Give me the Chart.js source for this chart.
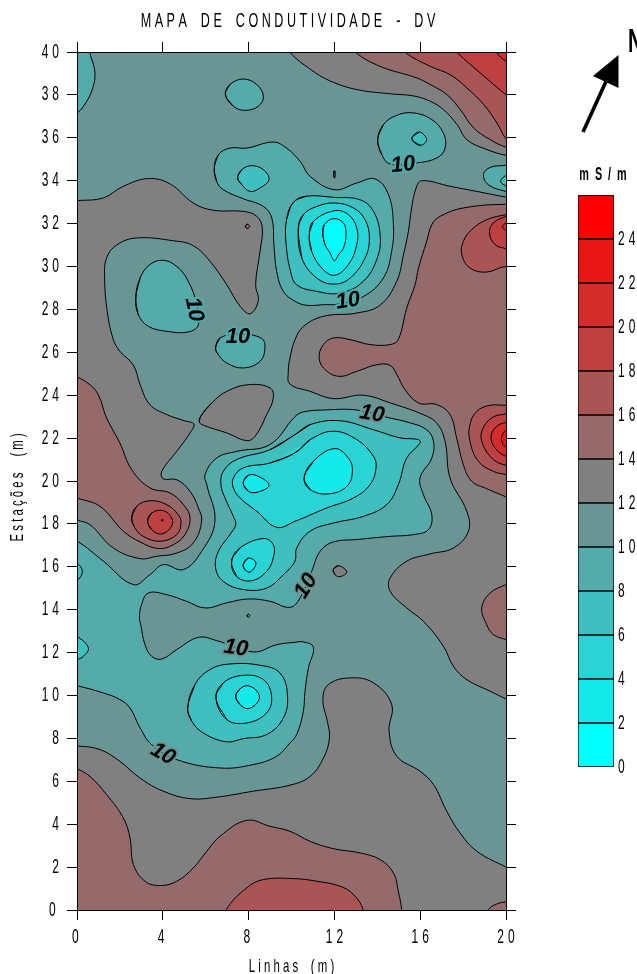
<!DOCTYPE html>
<html><head><meta charset="utf-8">
<style>
html,body{margin:0;padding:0;background:#fff;width:637px;height:974px;overflow:hidden;position:relative}
#map{position:absolute;left:0;top:0}
#bar{position:absolute;left:571px;top:160px}
#north{position:absolute;left:628px;top:20px;font:bold 34px 'Liberation Sans',sans-serif;color:#000;line-height:40px;transform:scaleX(.6);transform-origin:left top}
#arrow{position:absolute;left:570px;top:45px}
</style>
<script src="https://cdn.jsdelivr.net/npm/chart.js@4"></script>
</head><body>
<canvas id="map" width="637" height="974"></canvas>
<canvas id="bar" width="66" height="620"></canvas>
<svg id="arrow" width="60" height="95"><line x1="13" y1="87" x2="38" y2="32" stroke="#000" stroke-width="3.6"/><polygon points="48.5,10 23,31 48.5,43" fill="#000"/></svg>
<div id="north">N</div>
<script>
const FONT="'Liberation Sans',sans-serif";
const titleText='M A P A    D E    C O N D U T I V I D A D E    -    D V  ';
const xAxisTitle='L i n h a s    ( m )';
const yAxisTitle='E s t a ç õ e s     ( m )    ';
const xTickLabels=['0 ','4 ','8 ','1\u20042','1\u20046','2\u20040'];
const yTickLabels=['0 ','2','4','6','8','1\u20040','1\u20042','1\u20044','1\u20046','1\u20048','2\u20040','2\u20042','2\u20044','2\u20046','2\u20048','3\u20040','3\u20042','3\u20044','3\u20046','3\u20048','4\u20040'];
const barEdges=[0,2,4,6,8,10,12,14,16,18,20,22,24,26];
const barColors=['#00ffff','#15eaea','#2bd4d4','#40bfbf','#55aaaa','#6a9595','#808080','#956a6a','#aa5555','#bf4040','#d42b2b','#ea1515','#ff0000'];
const barTickLabels=['0','2','4','6','8','1\u20040','1\u20042','1\u20044','1\u20046','1\u20048','2\u20040','2\u20042','2\u20044',''];
const C={b2:barColors[0],b4:barColors[1],b6:barColors[2],b8:barColors[3],b10:barColors[4],b12:barColors[5],b14:barColors[6],b16:barColors[7],b18:barColors[8],b20:barColors[9],b22:barColors[10],b24:barColors[11]};

// contour outlines, in metres (linha, estação); points past the map edge close the shape off-map
const base=[[-3,-3],[23,-3],[23,43],[-3,43]];
const g12left=[[-1,33],[0,33.07],[1.23,33.2],[2.16,33.74],[3.33,34.1],[4.34,33.85],[5.42,32.96],[6.36,32.62],[7.75,32.57],[8.38,32.34],[8.64,31.8],[8.53,30.7],[8.33,29.15],[8.45,28.4],[8.07,27.8],[7.6,28.15],[6.98,29.15],[6.2,30.24],[5.42,30.97],[4.49,31.2],[2.78,31.33],[1.85,31],[1.38,30.4],[1.29,29.46],[1.41,27.9],[1.69,26.6],[2,26.05],[2.63,25.4],[2.94,24.5],[3.4,23.56],[4.18,23.1],[5.03,22.8],[5.45,22.66],[5.27,22.24],[4.65,21.38],[3.95,20.45],[4.02,20.1],[4.65,20.06],[5.27,19.52],[5.66,18.74],[5.81,18.12],[5.42,17.11],[4.65,16.64],[3.71,16.49],[2.94,16.38],[1.69,16.88],[0.6,17.97],[0,18.2],[-1,18.9]];
const g14dot=[[7.85,31.87],[7.94,31.97],[8.05,31.87],[7.94,31.77]];
const g12island=[[5.77,23.02],[6.28,23.64],[6.98,24.18],[7.99,24.49],[9,24.34],[9.15,23.87],[8.84,23.09],[8.3,22.08],[7.91,21.88],[6.98,22.24],[5.89,22.6],[5.7,22.75]];
const g12top=[[9.2,41],[9.93,39.98],[10.87,39.2],[11.8,38.65],[13.04,38.25],[14.6,38.05],[15.7,37.95],[16.47,37.7],[17.09,37.31],[17.72,36.61],[18.18,35.91],[19.11,35.45],[20,35.18],[21,35],[21,41]];
const g12right=[[21,33.1],[20,33.24],[18.64,33.5],[17.39,33.74],[16.07,34],[15.81,33.66],[15.6,32.73],[15.45,31.64],[15.22,30.55],[14.9,29.3],[14.13,28.2],[13.04,27.83],[11.49,27.68],[10.55,27.2],[10.17,26.6],[9.93,25.74],[9.85,25.11],[9.93,24.52],[10.87,24.18],[11.95,23.84],[13.35,24],[14.6,23.64],[16.15,23.09],[16.77,22.7],[17.16,21.85],[17.39,20.14],[18.17,18.59],[18.25,17.66],[17.55,16.88],[16.46,16.6],[15.37,16.26],[14.6,15.48],[14.6,14.86],[15.37,14.08],[16.15,13.46],[17.08,12.3],[17.55,11.36],[18.17,10.74],[19.26,10.2],[20,9.84],[21,9.4]];
const g12bottom=[[-1,7.7],[0,7.65],[1.07,7.48],[2,6.93],[2.94,6.15],[4.02,5.54],[5.27,5.19],[6.51,5.26],[8.22,5.54],[9.93,5.82],[10.87,6.23],[11.49,7.09],[11.77,8.02],[11.67,8.8],[11.46,9.81],[11.72,10.51],[12.73,10.82],[13.82,10.59],[14.67,9.58],[14.55,8.33],[14.91,7.17],[15.99,6.47],[16.62,5.85],[17.24,4.6],[17.86,3.59],[18.64,2.74],[20,2],[21,1.5],[21,-1],[-1,-1]];
const g12speck=[[11.95,15.87],[12.19,16.05],[12.58,15.76],[12.26,15.54],[12.03,15.63]];
const b14top=[[12.5,40.6],[12.96,40],[14.13,39.33],[15.84,38.79],[16.47,38.48],[17.25,38.01],[17.87,37.31],[18.49,36.46],[19.27,35.91],[20,35.56],[21,35.3],[21,41]];
const b14right=[[21,32.8],[20,32.9],[18.01,32.73],[16.93,32.34],[16.54,31.95],[16.3,31.17],[15.92,29.93],[15.76,29.15],[15.37,28.06],[14.98,26.6],[14.6,26.36],[13.66,26.36],[12.73,26.59],[11.95,26.67],[11.49,26.36],[11.29,25.81],[11.49,25.27],[12.19,24.88],[13.04,25.11],[13.97,25.42],[14.6,25.39],[14.91,24.96],[15.29,24.26],[15.92,23.64],[16.77,23.56],[17.39,23.09],[17.7,22],[18.01,20.76],[18.4,19.99],[19.1,19.64],[20,19.26],[21,18.8]];
const b14mid=[[21,15.6],[20,15.17],[19.26,14.78],[18.87,14.08],[19.1,13.3],[19.41,12.84],[20,12.6],[21,12.2]];
const b14left=[[-1,25.2],[0,24.85],[0.6,24.49],[0.99,24.03],[1.38,22.94],[2,21.77],[2.55,20.53],[3.4,19.68],[4.34,19.44],[4.96,18.9],[5.27,18.28],[5.03,17.5],[4.49,17.03],[3.79,16.85],[2.94,17.16],[2.16,17.66],[1.07,18.82],[0,19.21],[-1,19.6]];
const b14low=[[-1,7],[0,6.59],[0.6,6.23],[1.38,5.38],[2.16,4.29],[2.47,3.36],[2.63,2.12],[3.17,1.34],[3.87,1.14],[4.65,1.34],[5.42,1.96],[6.05,2.74],[6.67,3.44],[7.91,4.18],[9,3.9],[9.93,3.67],[10.87,3.2],[11.95,2.86],[13.2,2.66],[14.13,2.35],[14.75,1.73],[14.98,0.87],[15.14,0],[15.2,-1],[-1,-1]];
const b14corner=[[19,-1],[19.18,0],[19.57,0.28],[20,0.38],[21,0.5],[21,-1]];
const r16low=[[6.7,-1],[6.95,0],[7.91,1.03],[8.69,1.42],[10.16,1.46],[11.18,1.34],[12.26,1.11],[12.89,0.72],[13.35,0],[13.5,-1]];
const r16top=[[14.9,40.6],[15.29,40],[16.47,39.33],[17.4,38.94],[18.18,38.32],[18.96,37.55],[19.58,36.69],[20,35.96],[21,35],[21,41]];
const r18top=[[17.2,40.5],[17.72,39.97],[18.8,39.02],[20,38],[21,37.2],[21,41]];
const r20top=[[19.2,40.5],[19.58,39.95],[20,39.57],[21,39],[21,41]];
const r16dot=[[21,32.6],[20,32.42],[19.1,32.18],[18.4,31.72],[18.01,31.17],[17.94,30.55],[18.32,29.93],[19.1,29.74],[20,30],[21,29.8]];
const r18dot=[[21,32.7],[20,32.34],[19.41,32.03],[19.23,31.56],[19.49,31.02],[20,30.83],[21,30.5]];
const r20dot=[[20.6,32.4],[20,32.03],[19.83,31.86],[20,31.67],[20.6,31.3]];
const r16side=[[21,23.6],[20,23.53],[19.26,23.53],[18.64,23.25],[18.32,22.63],[18.32,21.85],[18.71,20.92],[19.41,20.45],[20,20.3],[21,20.1]];
const r18side=[[21,23.3],[20,23.13],[19.33,22.94],[18.87,22.32],[18.92,21.7],[19.41,21],[20,20.73],[21,20.5]];
const r20side=[[21,23],[20,22.74],[19.57,22.55],[19.3,22.08],[19.49,21.54],[20,21.15],[21,20.9]];
const r22side=[[21,22.8],[20,22.35],[19.8,22.08],[19.83,21.77],[20,21.58],[21,21.1]];
const r16blob=[[2.55,18.28],[2.78,18.82],[3.4,19.08],[4.18,18.9],[4.72,18.43],[4.85,18.04],[4.65,17.5],[3.87,17.19],[3.09,17.42],[2.7,17.81]];
const r18blob=[[3.29,18.12],[3.48,18.51],[4.02,18.62],[4.41,18.28],[4.41,17.89],[3.95,17.53],[3.48,17.73]];
const r20speck=[[3.94,18.17],[3.98,18.21],[4.02,18.17],[3.98,18.13]];
const t10corner=[[0.45,40.8],[0.6,39.95],[0.84,39.02],[0.68,38.17],[0.3,37.47],[0,37.16],[-1,36.6],[-1,40.8]];
const t10a=[[6.92,38.01],[7.13,38.48],[7.75,38.74],[8.38,38.48],[8.69,37.93],[8.45,37.47],[7.83,37.28],[7.29,37.47]];
const t10big=[[6.4,34.59],[6.59,35.21],[7.13,35.52],[7.91,35.52],[9.15,35.8],[9.77,35.52],[10.4,34.9],[10.87,34.2],[12,33.58],[13.04,33.89],[13.9,34.08],[14.52,33.35],[14.75,31.95],[14.67,30.71],[14.28,29.46],[13.35,28.6],[12.2,28.25],[11.49,28.22],[10.71,28.19],[10.16,28.38],[9.62,28.84],[9.31,29.77],[9.18,31.02],[9.08,32.26],[8.69,32.8],[7.75,33.16],[6.82,33.58],[6.51,33.97]];
const t8a=[[7.49,34.13],[7.68,34.51],[8.14,34.7],[8.69,34.51],[8.95,34.05],[8.53,33.66],[8.07,33.5],[7.68,33.82]];
const t8core=[[10.1,33],[10.71,33.28],[12,33.22],[13.2,33.11],[13.82,32.57],[14.13,31.48],[14,30.4],[13.35,29.31],[12.26,28.76],[11.18,28.84],[10.24,29.15],[9.95,29.8],[9.75,31.02],[9.77,32.2]];
const t6core=[[10.32,31.8],[10.55,32.42],[11.18,32.8],[12,32.96],[12.89,32.73],[13.43,32.18],[13.63,31.33],[13.43,30.4],[12.73,29.46],[12,29.18],[11.18,29.46],[10.48,30.4]];
const t4core=[[10.83,31.48],[11.02,32.1],[12,32.6],[12.65,32.42],[13.04,31.8],[13.04,31.02],[12.65,30.09],[12,29.59],[11.41,29.93],[10.94,30.71]];
const t2core=[[11.46,31.56],[11.53,31.95],[11.95,32.23],[12.42,32.03],[12.54,31.48],[12.42,30.86],[12.19,30.55],[12,30.27],[11.8,30.63],[11.56,31.02]];
const t10speck=[[11.98,34.45],[12.03,34.45],[12.03,34.15],[11.98,34.15]];
const t10ne=[[14.02,35.91],[14.28,36.61],[14.91,37.05],[15.68,37.16],[16.54,36.85],[17.08,36.22],[17.16,35.52],[16.77,35.06],[15.84,34.83],[14.6,34.78],[14.21,35.21]];
const t8ne=[[15.61,35.96],[15.96,36.27],[16.3,35.91],[15.99,35.65]];
const t10edge=[[21,34.9],[20,34.72],[19.26,34.62],[18.95,34.28],[19.18,33.81],[20,33.5],[21,33.3]];
const t8edge=[[20.6,34.6],[20,34.25],[19.75,33.97],[20,33.75],[20.6,33.4]];
const t10west=[[2.74,28.53],[2.94,29.46],[3.4,30.09],[4.02,30.29],[4.65,30],[5.19,29.31],[5.58,28.22],[5.66,27.29],[5.19,26.95],[4.18,26.98],[3.33,27.21],[2.86,27.75]];
const t10mid=[[6.46,26.2],[6.67,26.67],[7.6,26.85],[8.6,26.65],[8.76,26.2],[8.53,25.58],[7.75,25.27],[6.98,25.5],[6.59,25.89]];
const t10main=[[-1,17.6],[0,17.2],[1.23,16.26],[2.63,15.17],[3.4,15.63],[4.02,16.1],[4.96,15.87],[5.81,16.72],[6.43,18.12],[6.05,19.83],[5.97,20.3],[6.51,21.07],[7.44,21.38],[9,21.7],[10.16,23],[10.55,23.22],[11.49,23.31],[13.04,23.31],[14.44,22.97],[15.53,22.71],[16.3,22.39],[16.62,21.85],[16.54,21.07],[15.99,20.14],[16.15,19.36],[16.54,18.43],[16.38,17.73],[15.68,17.5],[14.6,17.42],[13.04,17.27],[11.95,17.16],[11.33,16.72],[10.94,15.79],[10.4,14.55],[9.93,14.11],[9,14.39],[7.99,14.5],[6.98,14.32],[5.97,14.08],[5.11,14.39],[4.18,14.7],[3.33,14.78],[3.01,14.24],[2.91,13.61],[2.97,13.3],[3.17,12.37],[3.48,11.83],[3.95,11.7],[4.65,12.14],[5.66,12.71],[6.51,12.56],[8.22,12.03],[9.31,12.37],[10.16,12.48],[10.55,12.5],[11.02,12.25],[10.79,11.29],[10.63,10.2],[10.55,9.26],[10.24,8.18],[9.93,7.79],[9.31,7.17],[8.22,6.78],[6.67,6.62],[4.65,7.01],[3.48,7.71],[2.94,8.49],[2.47,9.42],[2,9.81],[1.23,10.12],[0,10.46],[-1,10.7]];
const t12ring=[[7.92,13.72],[7.99,13.79],[8.06,13.72],[7.99,13.65]];
const t8edgeA=[[-0.6,16.6],[0,16.18],[0.25,15.79],[0,15.35],[-0.6,15]];
const t8edgeB=[[-0.6,13],[0,12.76],[0.53,12.22],[0.3,11.83],[0,11.67],[-0.6,11.4]];
const t8main=[[10.16,22.16],[9,21.46],[7.44,21],[6.82,20.45],[6.71,19.83],[6.9,19.21],[7.29,18.35],[7.4,17.97],[7.13,17.5],[6.59,16.72],[6.46,15.95],[6.82,15.32],[7.75,14.94],[8.84,15.01],[9.62,15.63],[10.16,16.26],[10.24,16.88],[10.87,17.66],[11.95,18.04],[13.35,18.35],[14.44,18.9],[14.98,19.83],[15.37,21.07],[15.99,21.77],[15.92,21.93],[15.06,22.01],[13.82,22.39],[12.26,22.81],[10.87,22.63]];
const t6main=[[10.16,21.31],[9,20.84],[7.75,20.61],[7.29,20.14],[7.29,19.68],[7.6,19.21],[8.38,18.59],[9.31,17.84],[10.16,18.12],[11.64,18.74],[12.89,19.21],[13.66,19.83],[13.94,20.61],[13.82,21.15],[13.04,21.93],[11.95,22.32],[10.87,21.93]];
const t4east=[[10.59,20.14],[11.02,20.92],[12,21.51],[12.65,21.07],[12.84,20.45],[12.58,19.75],[11.72,19.4],[10.87,19.6]];
const t4west=[[7.75,19.91],[7.99,20.27],[8.45,20.22],[8.95,19.8],[8.45,19.49],[7.99,19.52]];
const t6south=[[7.21,16.26],[7.6,16.88],[8.69,17.32],[9.15,17.03],[9.15,16.41],[8.84,15.79],[8.14,15.35],[7.44,15.55]];
const t4south=[[7.75,16.1],[7.99,16.41],[8.34,16.18],[8.07,15.76],[7.83,15.87]];
const t8low=[[5.16,9.42],[5.5,10.51],[6.2,11.21],[7.13,11.47],[8.53,11.41],[9.46,11.05],[9.81,10.04],[9.62,8.95],[8.84,8.18],[7.75,7.99],[6.98,7.84],[5.89,8.25],[5.35,8.8]];
const t6low=[[6.48,9.89],[6.82,10.59],[7.75,10.94],[8.69,10.74],[9.07,9.96],[8.84,9.19],[7.91,8.72],[6.98,8.88]];
const t4low=[[7.4,9.96],[7.6,10.31],[7.99,10.45],[8.45,10.12],[8.45,9.73],[7.99,9.39],[7.6,9.58]];

const layers=[
 [base,C.b12],[g12left,C.b14],[g14dot,C.b16],[g12island,C.b14],[g12top,C.b14],[g12right,C.b14],[g12bottom,C.b14],[g12speck,C.b14],
 [b14top,C.b16],[b14right,C.b16],[b14mid,C.b16],[b14left,C.b16],[b14low,C.b16],[b14corner,C.b16],
 [r16low,C.b18],[r16top,C.b18],[r18top,C.b20],[r20top,C.b22],
 [r16dot,C.b18],[r18dot,C.b20],[r20dot,C.b22],
 [r16side,C.b18],[r18side,C.b20],[r20side,C.b22],[r22side,C.b24],
 [r16blob,C.b18],[r18blob,C.b20],[r20speck,C.b22],
 [t10corner,C.b10],[t10a,C.b10],[t10big,C.b10],[t8a,C.b8],[t8core,C.b8],[t6core,C.b6],[t4core,C.b4],[t2core,C.b2],[t10speck,C.b10],
 [t10ne,C.b10],[t8ne,C.b8],[t10edge,C.b10],[t8edge,C.b8],[t10west,C.b10],[t10mid,C.b10],
 [t10main,C.b10],[t12ring,C.b12],[t8edgeA,C.b8],[t8edgeB,C.b8],[t8main,C.b8],[t6main,C.b6],[t4east,C.b4],[t4west,C.b4],[t6south,C.b6],[t4south,C.b4],
 [t8low,C.b8],[t6low,C.b6],[t4low,C.b4]
];
const contourLabels=[
 {x:15.2,y:34.73,rot:-6,halo:C.b10},{x:12.63,y:28.39,rot:-8,halo:C.b10},{x:5.45,y:28.0,rot:78,halo:C.b10},
 {x:7.5,y:26.7,rot:0,halo:C.b10},{x:13.75,y:23.12,rot:10,halo:C.b12},{x:10.68,y:15.1,rot:-58,halo:C.b12},
 {x:7.41,y:12.2,rot:8,halo:C.b12},{x:4.0,y:7.27,rot:30,halo:C.b12}
];
// the axis lettering of the original is a tall condensed face: squeeze it along the reading direction
const nativeFillText=CanvasRenderingContext2D.prototype.fillText;
function condense(canvas){const c=canvas.getContext('2d');
 c.fillText=function(t,x,y,m){c.save();c.translate(x,y);c.scale(.6,1);nativeFillText.call(c,t,0,0);c.restore();};
 return canvas;}
const closed=p=>[p[p.length-1],...p,p[0],p[1]].map(([x,y])=>({x,y}));
const datasets=layers.map(([pts,col],i)=>({data:closed(pts),backgroundColor:col,borderColor:'#000',borderWidth:1,tension:0.4,capBezierPoints:false,showLine:true,pointRadius:0,fill:false,order:layers.length-i}));
const fillShapes={id:'fillShapes',beforeDatasetDraw(chart,args){
 const line=args.meta.dataset,ctx=chart.ctx,a=chart.chartArea;
 line.updateControlPoints(a);
 ctx.save();ctx.beginPath();ctx.rect(a.left,a.top,a.width,a.height);ctx.clip();
 ctx.beginPath();line.path(ctx);ctx.closePath();
 ctx.fillStyle=chart.data.datasets[args.index].backgroundColor;ctx.fill();ctx.restore();
}};
const drawLabels={id:'drawLabels',afterDatasetsDraw(chart){
 const ctx=chart.ctx,sx=chart.scales.x,sy=chart.scales.y;
 contourLabels.forEach(l=>{ctx.save();
  ctx.translate(sx.getPixelForValue(l.x),sy.getPixelForValue(l.y));ctx.rotate(l.rot*Math.PI/180);
  ctx.font="italic bold 22px 'Liberation Sans',sans-serif";ctx.textAlign='center';ctx.textBaseline='middle';
  ctx.lineWidth=4;ctx.strokeStyle=l.halo;ctx.strokeText('10',0,0);
  ctx.fillStyle='#000';nativeFillText.call(ctx,'10',0,0);ctx.restore();});
}};
const grid={color:'#000',drawOnChartArea:false,tickLength:10,tickColor:'#000',z:1};
const border={color:'#000',width:1,z:1};
const tick={color:'#000',font:{family:FONT,size:20}};
new Chart(condense(document.getElementById('map')),{type:'scatter',data:{datasets},plugins:[fillShapes,drawLabels],options:{
 responsive:false,animation:false,events:[],layout:{padding:0},
 plugins:{legend:{display:false},tooltip:{enabled:false},
  title:{display:true,text:titleText,color:'#000',fullSize:false,font:{family:FONT,size:21,weight:'normal',lineHeight:1},padding:{top:11,bottom:0}}},
 scales:{
  x:{type:'linear',position:'bottom',min:0,max:20,grid,border,ticks:{...tick,stepSize:4,padding:5,maxRotation:0,callback:v=>xTickLabels[v/4]},
     title:{display:true,text:xAxisTitle,color:'#000',font:{family:FONT,size:19,lineHeight:.8},padding:0},afterFit:s=>{s.height=64}},
  x2:{type:'linear',position:'top',min:0,max:20,grid,border,ticks:{display:false,stepSize:4},afterFit:s=>{s.height=20}},
  y:{type:'linear',position:'left',min:0,max:40,grid,border,ticks:{...tick,stepSize:2,padding:8,autoSkip:false,callback:v=>yTickLabels[v/2]},
     title:{display:true,text:yAxisTitle,color:'#000',font:{family:FONT,size:19},padding:{top:6,bottom:0}},afterFit:s=>{s.width=77}},
  y2:{type:'linear',position:'right',min:0,max:40,grid,border,ticks:{display:false,stepSize:2},afterFit:s=>{s.width=131}}
 }}});
new Chart(condense(document.getElementById('bar')),{type:'bar',
 data:{labels:['mS/m'],datasets:barColors.map((c,i)=>({data:[[barEdges[i],barEdges[i+1]]],backgroundColor:c,borderColor:'#000',borderWidth:1,borderSkipped:false,grouped:false,barPercentage:1,categoryPercentage:1}))},
 options:{responsive:false,animation:false,events:[],layout:{padding:{left:7,right:0,top:0,bottom:13}},
  plugins:{legend:{display:false},tooltip:{enabled:false},
   title:{display:true,text:'m  S  /  m   ',color:'#000',font:{family:FONT,size:18,weight:'bold',lineHeight:1},padding:{top:6,bottom:11}}},
  scales:{x:{display:false},
   y:{position:'right',min:0,max:26,grid:{display:false,drawTicks:false},border:{display:false},
      ticks:{...tick,stepSize:2,padding:4,autoSkip:false,callback:v=>barTickLabels[v/2]},afterFit:s=>{s.width=23;s.paddingTop=0;s.paddingBottom=0}}}}});
</script>
</body></html>
